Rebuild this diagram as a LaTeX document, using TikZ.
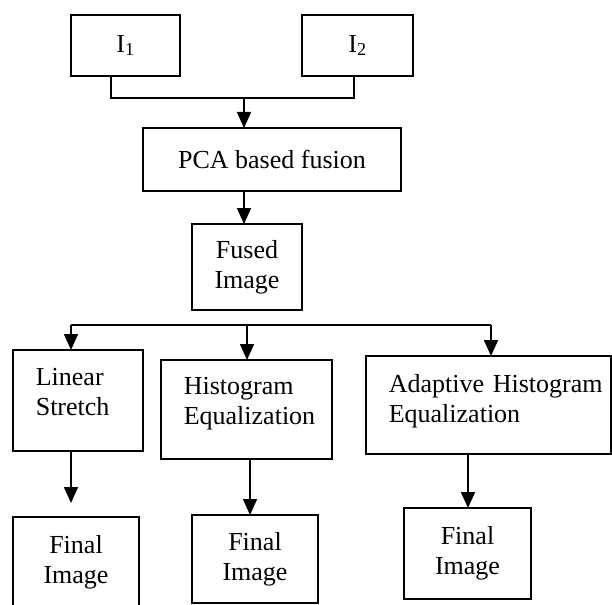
\documentclass[tikz,border=0pt]{standalone}
\usepackage{fontspec}
\setmainfont{Liberation Serif}
\usetikzlibrary{arrows.meta}

\begin{document}
\begin{tikzpicture}[x=1pt,y=-1pt,->,>={Triangle[length=16pt,width=14pt]},
        line width=1.6pt,font=\fontsize{26}{30}\selectfont,
        box/.style={draw,rectangle,anchor=north west,inner sep=0pt,outer sep=0pt,align=center},
        lbl/.style={anchor=base west,inner sep=0pt,align=left,text width=230pt}]

  \useasboundingbox (0,0) rectangle (612,604);
  \clip (0,0) rectangle (612,604);

  \node[box,minimum width=109pt,minimum height=61pt] (i1) at (71,15) {I\textsubscript{1}};
  \node[box,minimum width=111pt,minimum height=61pt] (i2) at (302,15) {I\textsubscript{2}};
  \node[box,minimum width=258pt,minimum height=63pt] (pca) at (143,128) {PCA based fusion};
  \node[box,minimum width=110pt,minimum height=86pt] (fused) at (192,224) {Fused\\Image};
  \node[box,minimum width=130pt,minimum height=101pt] (lin) at (13,350) {};
  \node[box,minimum width=171pt,minimum height=99pt] (hist) at (161,360) {};
  \node[box,minimum width=245pt,minimum height=98pt] (ahe) at (366,356) {};
  \node[box,minimum width=126pt,minimum height=90pt] (fin1) at (13,517) {Final\\Image};
  \node[box,minimum width=126pt,minimum height=88pt] (fin2) at (192,515) {Final\\Image};
  \node[box,minimum width=127pt,minimum height=91pt] (fin3) at (404,508) {Final\\Image};

  % texts of the three enhancement boxes sit near their top left
  \node[lbl] (linT) at (35,385) {Linear\\Stretch};
  \node[lbl] (histT) at (183,394) {Histogram\\Equalization};
  \node[lbl] (aheT) at (388,392) {Adaptive Histogram\\Equalization};

  \coordinate (b1) at (111,98);
  \coordinate (b2) at (354,98);
  \coordinate (bm) at (244,98);
  \coordinate (c1) at (71,325);
  \coordinate (c2) at (247,325);
  \coordinate (c3) at (491,325);
  \coordinate (d2) at (250,480);
  \coordinate (d3) at (468,480);

  \draw[-] (b1 |- i1.south) -- (b1) -- (b2) -- (b2 |- i2.south);
  \draw[-] (c1) -- (c3);

  \path
        (bm)               edge (bm |- pca.north)
        (bm |- pca.south)  edge (bm |- fused.north)
        (c1)               edge (c1 |- lin.north)
        (c2)               edge (c2 |- hist.north)
        (c3)               edge (c3 |- ahe.north)
        (c1 |- lin.south)  edge[shorten >=14pt] (c1 |- fin1.north)
        (d2 |- hist.south) edge (d2 |- fin2.north)
        (d3 |- ahe.south)  edge (d3 |- fin3.north);

\end{tikzpicture}
\end{document}
